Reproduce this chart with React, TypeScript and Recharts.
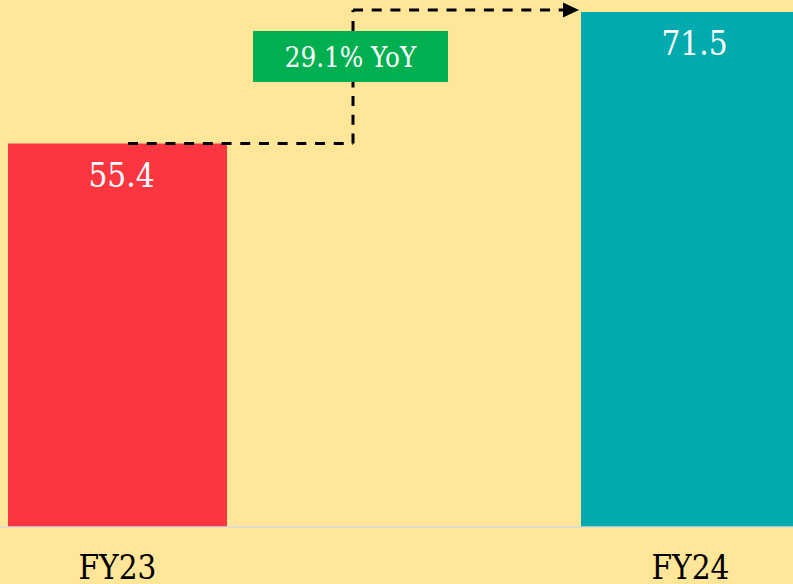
import React from 'react';
import { BarChart, Bar, XAxis, YAxis, Cell, LabelList, ReferenceLine, ReferenceArea } from 'recharts';

const categories = ['FY23', 'FY24'];
const revenue = [55.4, 71.5];
const barColors = ['#FC3640', '#00AAAD'];
const growthLabel = '29.1% YoY';

const data = categories.map((name, i) => ({ name, value: revenue[i], fill: barColors[i] }));

const FONT = "'DejaVu Serif Condensed', 'DejaVu Serif', serif";
const BG = '#FFE699';

// annotation positions on the hidden "pos" axis (0 = left of plot, 1 = right of plot)
const ARROW_START = 0.2592;
const ARROW_CORNER = 0.4555;
const ARROW_END = 0.6527;
const ARROW_TOP = 71.75;
const BOX_X = [0.3682, 0.5384];
const BOX_Y = [62.93, 69.17];

const ValueLabel = (props: any) => {
  const { x, y, width, value } = props;
  return (
    <text x={x + width / 2 + 4} y={y + 43} textAnchor="middle" fill="#fff" fontSize={33} fontFamily={FONT}>
      {value}
    </text>
  );
};

const Tick = (props: any) => {
  const { x, y, payload } = props;
  return (
    <text x={x} y={y + 44} textAnchor="middle" fill="#000" fontSize={33} fontFamily={FONT}>
      {payload.value}
    </text>
  );
};

const ArrowShape = (props: any) => {
  const { x1, y1, x2, y2 } = props;
  return (
    <g>
      <line x1={x1} y1={y1} x2={x2 - 14} y2={y2} stroke="#000" strokeWidth={3} strokeDasharray="10 8.7" />
      <path d={`M${x2 - 16},${y2 - 7.5} L${x2},${y2} L${x2 - 16},${y2 + 7.5} Z`} fill="#000" />
    </g>
  );
};

const BoxLabel = (props: any) => {
  const { viewBox } = props;
  const cx = viewBox.x + viewBox.width / 2;
  const cy = viewBox.y + viewBox.height / 2;
  return (
    <text x={cx} y={cy + 10} textAnchor="middle" fill="#fff" fontSize={27.5} fontFamily={FONT}>
      {growthLabel}
    </text>
  );
};

const dashed = { stroke: '#000', strokeWidth: 3, strokeDasharray: '10 8.7', ifOverflow: 'visible' as const };

export default function App() {
  return (
    <div style={{ position: 'absolute', left: 0, top: 0, width: 793, height: 584, background: BG, overflow: 'hidden' }}>
      <BarChart
        width={793}
        height={584}
        data={data}
        margin={{ top: 0, right: -184, bottom: 0, left: -169 }}
        style={{ background: BG }}
      >
        <XAxis
          dataKey="name"
          height={57}
          axisLine={{ stroke: '#D9D9D9', strokeWidth: 1.5 }}
          tickLine={false}
          tick={<Tick />}
          interval={0}
        />
        <XAxis xAxisId="pos" type="number" domain={[0, 1]} hide allowDataOverflow />
        <YAxis hide domain={[8.45, 72.97]} allowDataOverflow />
        <Bar dataKey="value" barSize={219} isAnimationActive={false}>
          {data.map((d, i) => (
            <Cell key={i} fill={d.fill} />
          ))}
          <LabelList dataKey="value" content={<ValueLabel />} />
        </Bar>
        <ReferenceLine
          xAxisId="pos"
          segment={[{ x: ARROW_START, y: revenue[0] }, { x: ARROW_CORNER, y: revenue[0] }]}
          {...dashed}
        />
        <ReferenceLine
          xAxisId="pos"
          segment={[{ x: ARROW_CORNER, y: revenue[0] }, { x: ARROW_CORNER, y: BOX_Y[0] }]}
          {...dashed}
        />
        <ReferenceLine
          xAxisId="pos"
          segment={[{ x: ARROW_CORNER, y: BOX_Y[1] }, { x: ARROW_CORNER, y: ARROW_TOP }]}
          {...dashed}
        />
        <ReferenceArea
          xAxisId="pos"
          x1={BOX_X[0]}
          x2={BOX_X[1]}
          y1={BOX_Y[0]}
          y2={BOX_Y[1]}
          fill="#00B050"
          fillOpacity={1}
          stroke="none"
          ifOverflow="visible"
          label={<BoxLabel />}
        />
        <ReferenceLine
          xAxisId="pos"
          segment={[{ x: ARROW_CORNER, y: ARROW_TOP }, { x: ARROW_END, y: ARROW_TOP }]}
          shape={<ArrowShape />}
          ifOverflow="visible"
        />
      </BarChart>
    </div>
  );
}
